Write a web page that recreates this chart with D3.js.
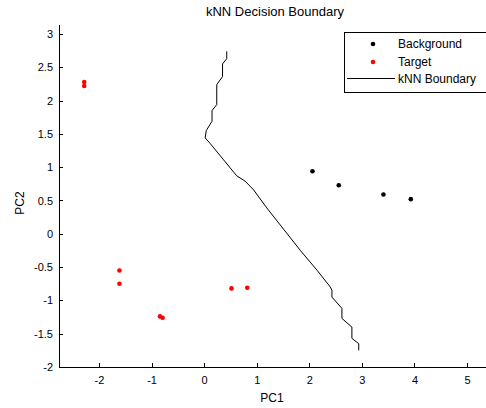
<!DOCTYPE html>
<html>
<head>
<meta charset="utf-8">
<script src="https://cdn.jsdelivr.net/npm/d3@7"></script>
<style>
    body { margin: 0; background: #fff; }
    svg { display: block; font-family: "Liberation Sans", Arial, sans-serif; }
</style>
</head>
<body>
<svg id="chart" width="486" height="408"></svg>
<script>
// Points (PC1, PC2)
const backgroundX = [2.06, 2.56, 3.41, 3.93];
const backgroundY = [0.94, 0.73, 0.59, 0.52];
const targetX = [-2.28, -2.28, -1.61, -1.61, -0.84, -0.79, 0.52, 0.82];
const targetY = [2.28, 2.22, -0.55, -0.75, -1.24, -1.26, -0.82, -0.81];

// kNN boundary trace
const boundaryX = [0.43, 0.43, 0.35, 0.35, 0.24, 0.24, 0.15, 0.15, 0.04, 0.02, 0.11, 0.37, 0.62, 0.78, 0.94,
    1.19, 1.51, 1.83, 2.15, 2.40, 2.43, 2.43, 2.62, 2.62, 2.81, 2.81, 2.94, 2.94];
const boundaryY = [2.74, 2.63, 2.55, 2.36, 2.24, 1.94, 1.85, 1.69, 1.55, 1.44, 1.36, 1.11, 0.87, 0.79, 0.66,
    0.39, 0.07, -0.25, -0.55, -0.80, -0.85, -0.95, -1.12, -1.27, -1.40, -1.57, -1.65, -1.75];

const xTicks = [-2, -1, 0, 1, 2, 3, 4, 5];
const yTicks = [-2, -1.5, -1, -0.5, 0, 0.5, 1, 1.5, 2, 2.5, 3];

const legendLabels = ["Background", "Target", "kNN Boundary"];

const svg = d3.select("#chart");

const x = d3.scaleLinear().domain([-2.76, 5.36]).range([59, 486]);
const y = d3.scaleLinear().domain([-2, 3.15]).range([367, 24]);

// Title
svg.append("text")
    .attr("x", 275).attr("y", 16)
    .attr("text-anchor", "middle")
    .attr("font-size", 13)
    .text("kNN Decision Boundary");

// Axes, ticks pointing inward
const xAxis = svg.append("g")
    .attr("transform", `translate(0,${y(-2)})`)
    .call(d3.axisBottom(x).tickValues(xTicks).tickSize(-4).tickSizeOuter(0).tickPadding(9)
        .tickFormat(d => String(d)));
const yAxis = svg.append("g")
    .attr("transform", `translate(${x.range()[0]},0)`)
    .call(d3.axisLeft(y).tickValues(yTicks).tickSize(-4).tickSizeOuter(0).tickPadding(6)
        .tickFormat(d => String(d)));

[xAxis, yAxis].forEach(a => {
    a.attr("font-family", null).attr("font-size", 11);
    a.select(".domain").attr("stroke", "#000").attr("shape-rendering", "crispEdges");
    a.selectAll(".tick line").attr("stroke", "#000").attr("shape-rendering", "crispEdges");
    a.selectAll(".tick text").attr("fill", "#000");
});

// Axis labels
svg.append("text")
    .attr("x", 272).attr("y", 402)
    .attr("text-anchor", "middle")
    .attr("font-size", 12)
    .text("PC1");
svg.append("text")
    .attr("transform", "translate(24,203) rotate(-90)")
    .attr("text-anchor", "middle")
    .attr("font-size", 12)
    .text("PC2");

// Boundary line
const boundary = boundaryX.map((v, i) => [v, boundaryY[i]]);
svg.append("path")
    .datum(boundary)
    .attr("fill", "none")
    .attr("stroke", "#000")
    .attr("stroke-width", 1)
    .attr("d", d3.line().x(d => x(d[0])).y(d => y(d[1])));

// Points
function drawPoints(xs, ys, color) {
    svg.append("g").selectAll("circle")
        .data(xs.map((v, i) => [v, ys[i]]))
        .join("circle")
        .attr("cx", d => x(d[0]))
        .attr("cy", d => y(d[1]))
        .attr("r", 2.3)
        .attr("fill", color);
}
drawPoints(backgroundX, backgroundY, "#000");
drawPoints(targetX, targetY, "#ff0000");

// Legend
const legend = svg.append("g");
legend.append("rect")
    .attr("x", 344.5).attr("y", 32.5)
    .attr("width", 150).attr("height", 60)
    .attr("fill", "#fff").attr("stroke", "#000");

const legendY = [44, 62, 79];
legend.append("circle").attr("cx", 373).attr("cy", legendY[0]).attr("r", 2.3).attr("fill", "#000");
legend.append("circle").attr("cx", 373).attr("cy", legendY[1]).attr("r", 2.3).attr("fill", "#ff0000");
legend.append("line")
    .attr("x1", 347).attr("x2", 395)
    .attr("y1", legendY[2] - 0.5).attr("y2", legendY[2] - 0.5)
    .attr("stroke", "#000");

legend.selectAll("text")
    .data(legendLabels)
    .join("text")
    .attr("x", 398)
    .attr("y", (d, i) => legendY[i] + 4)
    .attr("font-size", 12)
    .text(d => d);
</script>
</body>
</html>
